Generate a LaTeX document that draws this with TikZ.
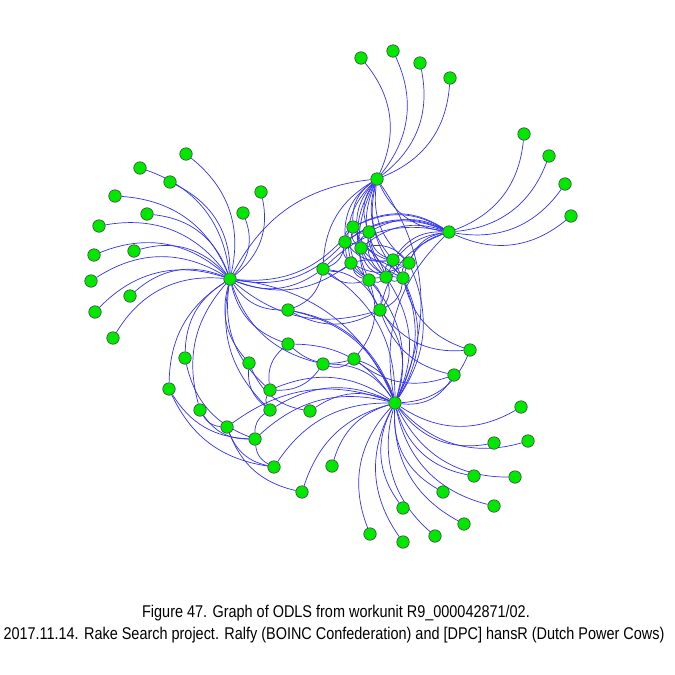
\documentclass[tikz,border=0pt]{standalone}
\usepackage{fontspec}
\setmainfont[FakeStretch=0.85]{Liberation Sans}
\pgfdeclarelayer{edges}
\pgfsetlayers{edges,main}
\definecolor{vgreen}{RGB}{0,232,0}
\definecolor{eblue}{RGB}{50,50,240}
\begin{document}
\begin{tikzpicture}[x=1pt,y=-1pt,
  v/.style={circle,fill=vgreen,draw=black!75,line width=0.6pt,minimum size=12.5pt,inner sep=0pt},
  e/.style={draw=eblue,line width=0.7pt},
  captext/.style={anchor=base,inner sep=0pt,font=\fontsize{17}{20}\selectfont}]
\useasboundingbox (0,0) rectangle (675,675);
% hubs
\node[v] (A) at (377,179) {};
\node[v] (B) at (449,232) {};
\node[v] (C) at (230,279) {};
\node[v] (D) at (395,403) {};
% A leaves
\node[v] (a1) at (361,58) {};
\node[v] (a2) at (393,51) {};
\node[v] (a3) at (420,63) {};
\node[v] (a4) at (450,78) {};
% B leaves
\node[v] (b1) at (524,134) {};
\node[v] (b2) at (549,156) {};
\node[v] (b3) at (565,184) {};
\node[v] (b4) at (571,216) {};
% C leaves
\node[v] (c1) at (186,154) {};
\node[v] (c2) at (140,168) {};
\node[v] (c3) at (170,182) {};
\node[v] (c4) at (115,196) {};
\node[v] (c5) at (147,214) {};
\node[v] (c6) at (99,226) {};
\node[v] (c7) at (261,192) {};
\node[v] (c8) at (243,213) {};
\node[v] (c9) at (94,255) {};
\node[v] (c10) at (134,251) {};
\node[v] (c11) at (91,281) {};
\node[v] (c12) at (130,296) {};
\node[v] (c13) at (95,312) {};
\node[v] (c14) at (113,338) {};
% D leaves
\node[v] (d1) at (521,407) {};
\node[v] (d2) at (494,443) {};
\node[v] (d3) at (528,441) {};
\node[v] (d4) at (474,476) {};
\node[v] (d5) at (515,477) {};
\node[v] (d6) at (443,492) {};
\node[v] (d7) at (494,506) {};
\node[v] (d8) at (403,508) {};
\node[v] (d9) at (464,524) {};
\node[v] (d10) at (370,534) {};
\node[v] (d11) at (403,542) {};
\node[v] (d12) at (435,536) {};
\node[v] (d13) at (470,350) {};
\node[v] (d14) at (454,375) {};
% core
\node[v] (k1) at (353,227) {};
\node[v] (k2) at (369,232) {};
\node[v] (k3) at (345,242) {};
\node[v] (k4) at (361,248) {};
\node[v] (k5) at (351,263) {};
\node[v] (k6) at (393,260) {};
\node[v] (k7) at (409,263) {};
\node[v] (k8) at (369,280) {};
\node[v] (k9) at (386,277) {};
\node[v] (k10) at (403,278) {};
% middle
\node[v] (m1) at (323,269) {};
\node[v] (m2) at (380,310) {};
\node[v] (m3) at (288,310) {};
\node[v] (m4) at (288,344) {};
\node[v] (m5) at (323,364) {};
\node[v] (m6) at (354,359) {};
% lower left
\node[v] (l1) at (185,358) {};
\node[v] (l2) at (249,363) {};
\node[v] (l3) at (169,389) {};
\node[v] (l4) at (270,390) {};
\node[v] (l5) at (200,410) {};
\node[v] (l6) at (270,410) {};
\node[v] (l7) at (310,411) {};
\node[v] (l8) at (227,427) {};
\node[v] (l9) at (255,439) {};
\node[v] (l10) at (274,467) {};
\node[v] (l11) at (332,466) {};
\node[v] (l12) at (302,492) {};
\begin{pgfonlayer}{edges}
% hub to leaf edges
\foreach \h/\t in {A/a1,A/a2,A/a3,A/a4,B/b1,B/b2,B/b3,B/b4,
  C/c1,C/c2,C/c3,C/c4,C/c5,C/c6,C/c7,C/c8,C/c9,C/c10,C/c11,C/c12,C/c13,C/c14,
  D/d1,D/d2,D/d3,D/d4,D/d5,D/d6,D/d7,D/d8,D/d9,D/d10,D/d11,D/d12,D/d13,D/d14}
  \draw[e] (\h) to[bend right=32] (\t);
% other edges, bending right
\foreach \h/\t in {A/k1,A/k2,A/k3,A/k4,A/k5,A/k6,A/k7,A/k8,A/k9,A/k10,A/m1,A/B,A/C,A/m2,
  B/k1,B/k2,B/k4,B/k6,B/k7,B/k9,B/k10,B/m1,B/D,B/m2,B/k3,
  D/k6,D/k7,D/k8,D/k9,D/k10,D/m2,D/m6,D/m5,D/m4,D/m3,D/l4,D/l6,D/l7,D/l9,D/l10,D/l11,D/l12,D/l8,D/m1,
  C/m1,C/m3,C/m4,C/l1,C/l2,C/l3,C/l4,C/l5,C/k3,C/k5,C/k1,C/m2,C/l6,C/m5,
  k1/k2,k1/k3,k1/k4,k2/k4,k3/k5,k4/k6,k4/k9,k5/k8,k6/k7,k6/k9,k7/k10,k8/k9,k9/k10,k2/k6,
  k3/k8,k1/k7,k2/k10,k5/k9,k4/k10,k3/k6,k2/k9,k1/k8,k5/k7,
  m1/k3,m1/k5,m1/k8,m2/k8,m2/k9,m2/k10,m2/m1,m3/m1,m3/m2,m4/m6,m4/l4,m5/m6,m6/k8,
  m2/d13,m2/d14,k10/d13,m6/d14,
  l1/l9,l3/l9,l3/l10,l5/l8,l5/l9,l8/l10,l8/l12,l2/l6,l2/l7,l4/l6,l6/l9,l4/m5,l9/l10}
  \draw[e] (\h) to[bend right=28] (\t);
% a few edges bending the other way
\foreach \h/\t in {k1/B,k3/B,k5/k10,k4/k7,k3/k9,C/D,m3/D,A/D}
  \draw[e] (\h) to[bend left=30] (\t);
\end{pgfonlayer}
% caption
\node[captext] (t1) at (336,617) {Figure 47. Graph of ODLS from workunit R9\_000042871/02.};
\node[captext] (t2) at (334,639) {2017.11.14. Rake Search project. Ralfy (BOINC Confederation) and [DPC] hansR (Dutch Power Cows)};
\end{tikzpicture}
\end{document}
